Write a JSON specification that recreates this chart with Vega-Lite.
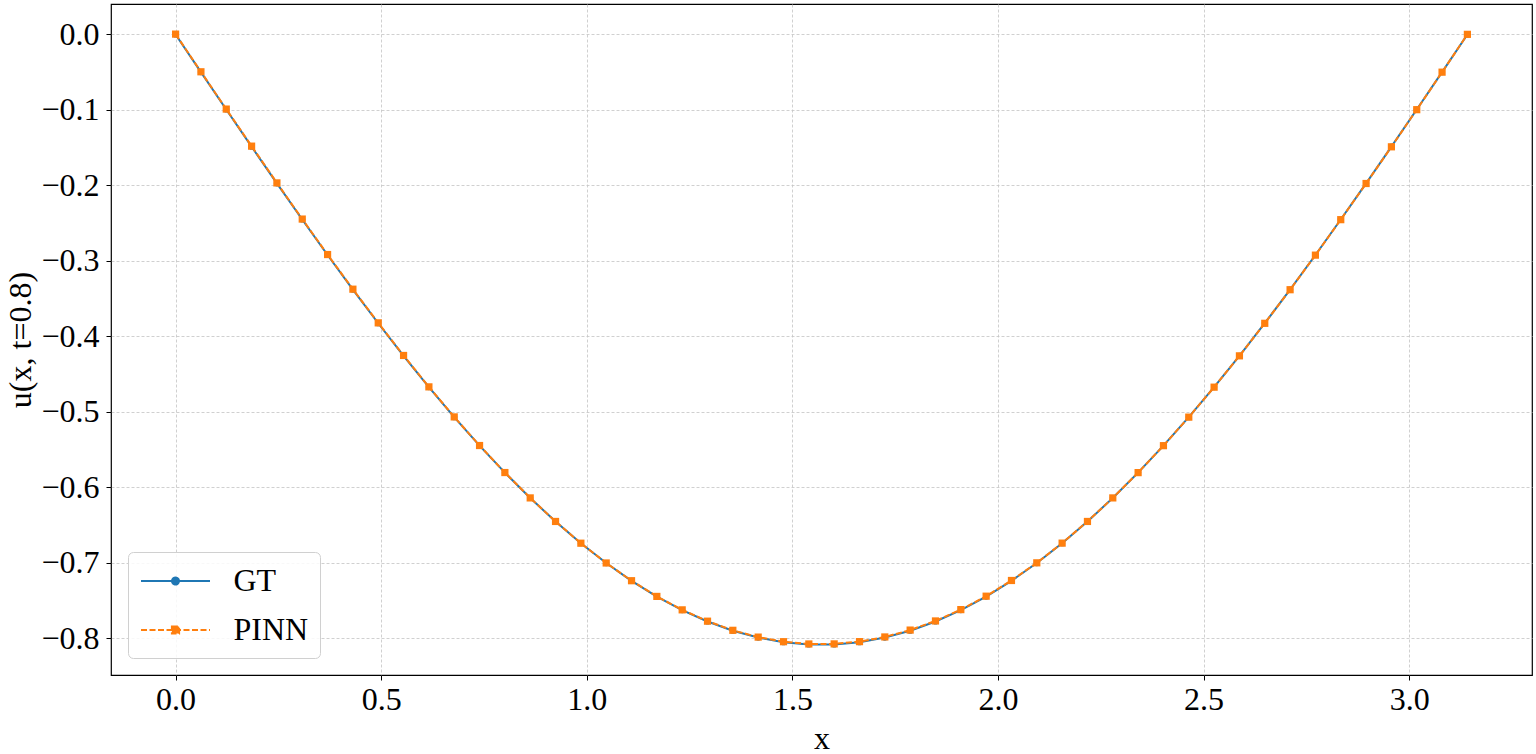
{
  "$schema": "https://vega.github.io/schema/vega-lite/v6.json",
  "width": 1421,
  "height": 671,
  "autosize": {"type": "none"},
  "padding": {"left": 111, "top": 4, "right": 4, "bottom": 79},
  "background": "white",
  "config": {
    "view": {"stroke": "black", "strokeWidth": 1.2},
    "font": "Liberation Serif",
    "axis": {
      "labelFont": "Liberation Serif",
      "labelFontSize": 32,
      "labelColor": "black",
      "titleFont": "Liberation Serif",
      "titleFontSize": 32,
      "titleFontWeight": "normal",
      "titleColor": "black",
      "tickColor": "black",
      "tickSize": 5,
      "tickWidth": 1,
      "domain": false,
      "grid": true,
      "gridColor": "#c4c4c4",
      "gridWidth": 0.8,
      "gridDash": [3, 2]
    }
  },
  "data": {
    "values": [
      {"x": 0.0, "GT": 0.0, "PINN": 0.0005},
      {"x": 0.0616, "GT": -0.0498, "PINN": -0.0494},
      {"x": 0.1232, "GT": -0.0994, "PINN": -0.0988},
      {"x": 0.1848, "GT": -0.1486, "PINN": -0.1479},
      {"x": 0.2464, "GT": -0.1972, "PINN": -0.1966},
      {"x": 0.308, "GT": -0.2451, "PINN": -0.2445},
      {"x": 0.3696, "GT": -0.2921, "PINN": -0.2915},
      {"x": 0.4312, "GT": -0.3379, "PINN": -0.3374},
      {"x": 0.4928, "GT": -0.3825, "PINN": -0.382},
      {"x": 0.5544, "GT": -0.4256, "PINN": -0.4252},
      {"x": 0.616, "GT": -0.4671, "PINN": -0.4668},
      {"x": 0.6776, "GT": -0.5069, "PINN": -0.5066},
      {"x": 0.7392, "GT": -0.5447, "PINN": -0.5445},
      {"x": 0.8008, "GT": -0.5804, "PINN": -0.5803},
      {"x": 0.8624, "GT": -0.614, "PINN": -0.6139},
      {"x": 0.924, "GT": -0.6452, "PINN": -0.6451},
      {"x": 0.9856, "GT": -0.674, "PINN": -0.6739},
      {"x": 1.0472, "GT": -0.7002, "PINN": -0.7001},
      {"x": 1.1088, "GT": -0.7237, "PINN": -0.7236},
      {"x": 1.1704, "GT": -0.7446, "PINN": -0.7444},
      {"x": 1.232, "GT": -0.7625, "PINN": -0.7622},
      {"x": 1.2936, "GT": -0.7776, "PINN": -0.7772},
      {"x": 1.3552, "GT": -0.7898, "PINN": -0.7893},
      {"x": 1.4168, "GT": -0.7989, "PINN": -0.7983},
      {"x": 1.4784, "GT": -0.8051, "PINN": -0.8044},
      {"x": 1.54, "GT": -0.8081, "PINN": -0.8074},
      {"x": 1.6016, "GT": -0.8081, "PINN": -0.8073},
      {"x": 1.6632, "GT": -0.8051, "PINN": -0.8043},
      {"x": 1.7248, "GT": -0.7989, "PINN": -0.7981},
      {"x": 1.7864, "GT": -0.7898, "PINN": -0.789},
      {"x": 1.848, "GT": -0.7776, "PINN": -0.7769},
      {"x": 1.9096, "GT": -0.7625, "PINN": -0.7619},
      {"x": 1.9712, "GT": -0.7446, "PINN": -0.7441},
      {"x": 2.0328, "GT": -0.7237, "PINN": -0.7233},
      {"x": 2.0944, "GT": -0.7002, "PINN": -0.6999},
      {"x": 2.156, "GT": -0.674, "PINN": -0.6738},
      {"x": 2.2176, "GT": -0.6452, "PINN": -0.6451},
      {"x": 2.2792, "GT": -0.614, "PINN": -0.6139},
      {"x": 2.3408, "GT": -0.5804, "PINN": -0.5804},
      {"x": 2.4024, "GT": -0.5447, "PINN": -0.5447},
      {"x": 2.464, "GT": -0.5069, "PINN": -0.5069},
      {"x": 2.5256, "GT": -0.4671, "PINN": -0.4672},
      {"x": 2.5872, "GT": -0.4256, "PINN": -0.4257},
      {"x": 2.6488, "GT": -0.3825, "PINN": -0.3826},
      {"x": 2.7104, "GT": -0.3379, "PINN": -0.3381},
      {"x": 2.772, "GT": -0.2921, "PINN": -0.2923},
      {"x": 2.8336, "GT": -0.2451, "PINN": -0.2453},
      {"x": 2.8952, "GT": -0.1972, "PINN": -0.1974},
      {"x": 2.9568, "GT": -0.1486, "PINN": -0.1488},
      {"x": 3.0184, "GT": -0.0994, "PINN": -0.0996},
      {"x": 3.08, "GT": -0.0498, "PINN": -0.0499},
      {"x": 3.1416, "GT": 0.0, "PINN": 0.0002}
    ]
  },
  "transform": [{"fold": ["GT", "PINN"], "as": ["series", "u"]}],
  "encoding": {
    "x": {
      "field": "x",
      "type": "quantitative",
      "scale": {"domain": [-0.1571, 3.2987], "nice": false, "zero": false},
      "axis": {"values": [0, 0.5, 1, 1.5, 2, 2.5, 3], "format": ".1f", "title": "x", "labelPadding": 4, "titlePadding": 8, "labelFlush": false}
    },
    "y": {
      "field": "u",
      "type": "quantitative",
      "scale": {"domain": [-0.8485, 0.0404], "nice": false, "zero": false},
      "axis": {"values": [-0.8, -0.7, -0.6, -0.5, -0.4, -0.3, -0.2, -0.1, 0], "format": ".1f", "title": "u(x, t=0.8)", "labelPadding": 7, "titlePadding": 3, "labelFlush": false}
    },
    "color": {
      "field": "series",
      "type": "nominal",
      "scale": {"domain": ["GT", "PINN"], "range": ["#1f77b4", "#ff7f0e"]},
      "legend": {
        "title": null,
        "orient": "bottom-left",
        "offset": 17,
        "padding": 11.5,
        "labelFont": "Liberation Serif",
        "labelFontSize": 32,
        "labelColor": "black",
        "labelOffset": 40.5,
        "symbolOffset": 18.5,
        "symbolSize": 1089,
        "symbolStrokeWidth": 2,
        "rowPadding": 15,
        "strokeColor": "#d0d0d0",
        "fillColor": "rgba(255,255,255,0.85)",
        "cornerRadius": 5,
        "encode": {
          "symbols": {
            "update": {
              "shape": {"signal": "datum.value === 'GT' ? 'M-2.09,0L2.09,0M0.212,0A0.212,0.212,0,1,1,-0.212,0A0.212,0.212,0,1,1,0.212,0Z' : 'M-2.09,0L2.09,0M-0.218,-0.218L0.218,-0.218L0.218,0.218L-0.218,0.218Z'"},
              "size": {"value": 1089},
              "strokeDash": {"signal": "datum.value === 'PINN' ? [6, 2.5] : [1, 0]"},
              "fill": {"signal": "datum.value === 'GT' ? '#1f77b4' : '#ff7f0e'"},
              "stroke": {"signal": "datum.value === 'GT' ? '#1f77b4' : '#ff7f0e'"},
              "strokeWidth": {"value": 2},
              "fillOpacity": {"value": 1},
              "strokeOpacity": {"value": 1},
              "opacity": {"value": 1}
            }
          }
        }
      }
    }
  },
  "layer": [
    {
      "transform": [{"filter": "datum.series === 'GT'"}],
      "mark": {"type": "line", "strokeWidth": 2}
    },
    {
      "transform": [{"filter": "datum.series === 'GT'"}],
      "mark": {"type": "point", "shape": "circle", "size": 38, "filled": true, "opacity": 1}
    },
    {
      "transform": [{"filter": "datum.series === 'PINN'"}],
      "mark": {"type": "line", "strokeWidth": 2, "strokeDash": [6, 2.5]}
    },
    {
      "transform": [{"filter": "datum.series === 'PINN'"}],
      "mark": {"type": "point", "shape": "square", "size": 52, "filled": true, "opacity": 1}
    }
  ]
}
